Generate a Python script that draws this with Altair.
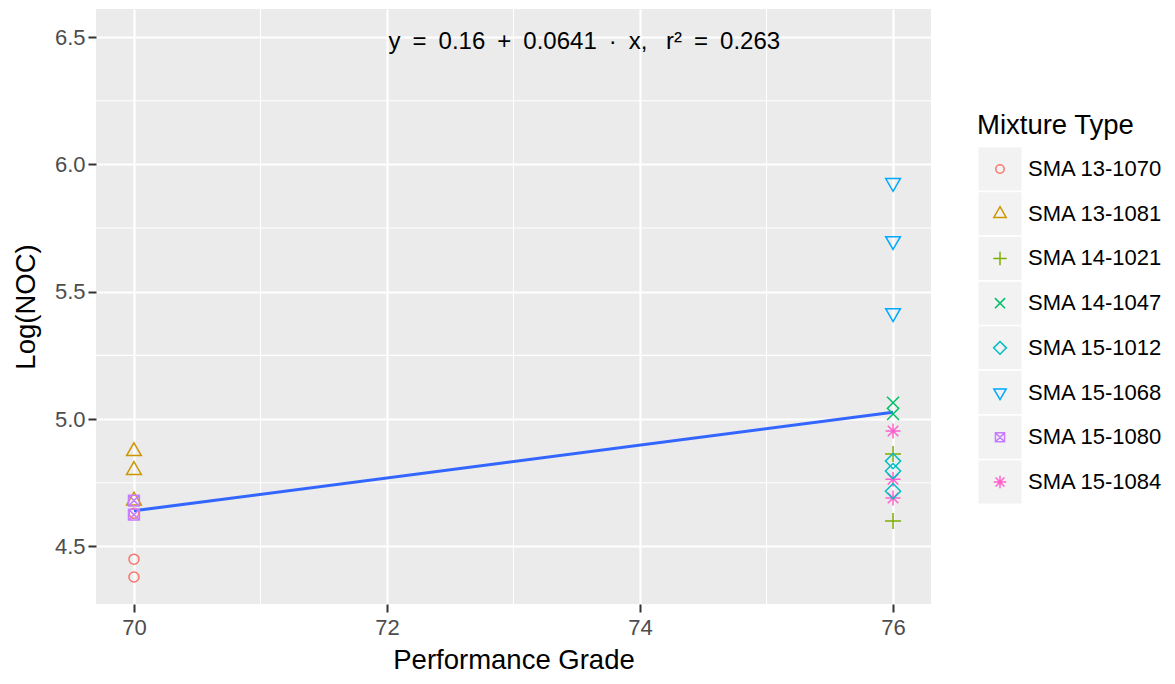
import altair as alt
import pandas as pd

# ---------------- data ----------------
categories = ["SMA 13-1070", "SMA 13-1081", "SMA 14-1021", "SMA 14-1047",
              "SMA 15-1012", "SMA 15-1068", "SMA 15-1080", "SMA 15-1084"]
colors = ["#F8766D", "#CD9600", "#7CAE00", "#00BE67",
          "#00BFC4", "#00A9FF", "#C77CFF", "#FF61CC"]

point_mixture = [
    "SMA 13-1070", "SMA 13-1070", "SMA 13-1070",
    "SMA 13-1081", "SMA 13-1081", "SMA 13-1081",
    "SMA 15-1080", "SMA 15-1080",
    "SMA 15-1068", "SMA 15-1068", "SMA 15-1068",
    "SMA 14-1047", "SMA 14-1047",
    "SMA 15-1084", "SMA 15-1084", "SMA 15-1084",
    "SMA 14-1021", "SMA 14-1021",
    "SMA 15-1012", "SMA 15-1012", "SMA 15-1012",
]
point_grade = [70, 70, 70,
               70, 70, 70,
               70, 70,
               76, 76, 76,
               76, 76,
               76, 76, 76,
               76, 76,
               76, 76, 76]
point_noc = [4.45, 4.38, 4.63,
             4.874, 4.80, 4.68,
             4.68, 4.625,
             5.927, 5.699, 5.416,
             5.064, 5.02,
             4.953, 4.764, 4.69,
             4.863, 4.60,
             4.835, 4.796, 4.717]

x_major = [70, 72, 74, 76]
x_minor = [71, 73, 75]
y_major = [4.5, 5.0, 5.5, 6.0, 6.5]
y_minor = [4.75, 5.25, 5.75, 6.25]

equation = "y\u2002=\u20020.16\u2002+\u20020.0641\u2002\u00b7\u2002x,\u2002 r\u00b2\u2002=\u20020.263"
eq_x = [73.56]
eq_y = [6.5]

# ggplot-like hollow shapes as unit paths
shape_paths = [
    "M0.625,0A0.625,0.625,0,1,1,-0.625,0A0.625,0.625,0,1,1,0.625,0Z",
    "M0,-1.05L0.92,0.55L-0.92,0.55Z",
    "M-1,0L1,0M0,-1L0,1",
    "M-0.75,-0.75L0.75,0.75M-0.75,0.75L0.75,-0.75",
    "M0,-0.95L0.95,0L0,0.95L-0.95,0Z",
    "M0,1.05L0.92,-0.55L-0.92,-0.55Z",
    "M-0.68,-0.68L0.68,-0.68L0.68,0.68L-0.68,0.68ZM-0.68,-0.68L0.68,0.68M-0.68,0.68L0.68,-0.68",
    "M-0.94,0L0.94,0M0,-0.94L0,0.94M-0.66,-0.66L0.66,0.66M-0.66,0.66L0.66,-0.66",
]

FONT = "Liberation Sans"

df = pd.DataFrame({"mix": point_mixture, "grade": point_grade, "noc": point_noc})

x_scale = alt.Scale(domain=[69.7, 76.3], nice=False, zero=False)
y_scale = alt.Scale(domain=[4.274, 6.61], nice=False, zero=False)
color_scale = alt.Scale(domain=categories, range=colors)
shape_scale = alt.Scale(domain=categories, range=shape_paths)

x_axis = alt.Axis(values=x_major, format="d", title="Performance Grade",
                  grid=True, gridColor="white", gridWidth=2.2,
                  domain=False, tickColor="#333333", tickWidth=2, tickSize=8,
                  labelPadding=5, labelFontSize=22, labelColor="#4D4D4D", labelFont=FONT,
                  titleFont=FONT, titleFontSize=27.5, titleFontWeight="normal",
                  titleColor="black", titlePadding=8)
y_axis = alt.Axis(values=y_major, format=".1f", title="Log(NOC)",
                  grid=True, gridColor="white", gridWidth=2.2,
                  domain=False, tickColor="#333333", tickWidth=2, tickSize=8,
                  labelPadding=3, labelFontSize=22, labelColor="#4D4D4D", labelFont=FONT,
                  titleFont=FONT, titleFontSize=27.5, titleFontWeight="normal",
                  titleColor="black", titlePadding=14)

minor_x = alt.Chart(pd.DataFrame({"v": x_minor})).mark_rule(
    color="white", strokeWidth=1.1).encode(
    x=alt.X("v:Q", scale=x_scale, axis=x_axis))
minor_y = alt.Chart(pd.DataFrame({"v": y_minor})).mark_rule(
    color="white", strokeWidth=1.1).encode(
    y=alt.Y("v:Q", scale=y_scale, axis=y_axis))

fit = alt.Chart(df).transform_regression("grade", "noc").mark_line(
    color="#3366FF", strokeWidth=3).encode(
    x=alt.X("grade:Q", scale=x_scale, axis=x_axis),
    y=alt.Y("noc:Q", scale=y_scale, axis=y_axis))

points = alt.Chart(df).mark_point(filled=False, size=256, strokeWidth=1.5, opacity=1).encode(
    x=alt.X("grade:Q", scale=x_scale, axis=x_axis),
    y=alt.Y("noc:Q", scale=y_scale, axis=y_axis),
    color=alt.Color("mix:N", scale=color_scale, legend=None),
    shape=alt.Shape("mix:N", scale=shape_scale, legend=None))

eq = alt.Chart(pd.DataFrame({"x": eq_x, "y": eq_y, "t": [equation]})).mark_text(
    font=FONT, fontSize=24, color="black", baseline="middle", align="center", dy=5).encode(
    x=alt.X("x:Q", scale=x_scale, axis=x_axis),
    y=alt.Y("y:Q", scale=y_scale, axis=y_axis),
    text="t:N")

main = alt.layer(minor_x, minor_y, fit, points, eq).properties(
    width=835, height=595,
    view=alt.ViewBackground(fill="#EBEBEB", strokeWidth=0))

# ---------------- manual legend ----------------
legend_df = pd.DataFrame({"mix": categories})
ly = alt.Y("mix:N", sort=categories,
           scale=alt.Scale(type="point", range=[160, 473], padding=0), axis=None)

keys = alt.Chart(legend_df).mark_square(color="#F2F2F2", size=1849, opacity=1).encode(
    x=alt.value(68), y=ly)
syms = alt.Chart(legend_df).mark_point(filled=False, size=180, strokeWidth=1.5, opacity=1).encode(
    x=alt.value(68), y=ly,
    color=alt.Color("mix:N", scale=color_scale, legend=None),
    shape=alt.Shape("mix:N", scale=shape_scale, legend=None))
labels = alt.Chart(legend_df).mark_text(
    align="left", baseline="middle", font=FONT, fontSize=22, color="black").encode(
    x=alt.value(96), y=ly, text="mix:N")
ltitle = alt.Chart(pd.DataFrame({"t": ["Mixture Type"]})).mark_text(
    align="left", baseline="middle", font=FONT, fontSize=27.5, color="black").encode(
    x=alt.value(45), y=alt.value(117), text="t:N")

legend = alt.layer(keys, syms, labels, ltitle).properties(width=235, height=595)

chart = alt.hconcat(main, legend, spacing=0).properties(
    padding={"left": 4, "top": 0, "right": 0, "bottom": 0}
).configure_view(strokeWidth=0)

chart.save("out.html", embed_options={"renderer": "svg", "actions": False})
